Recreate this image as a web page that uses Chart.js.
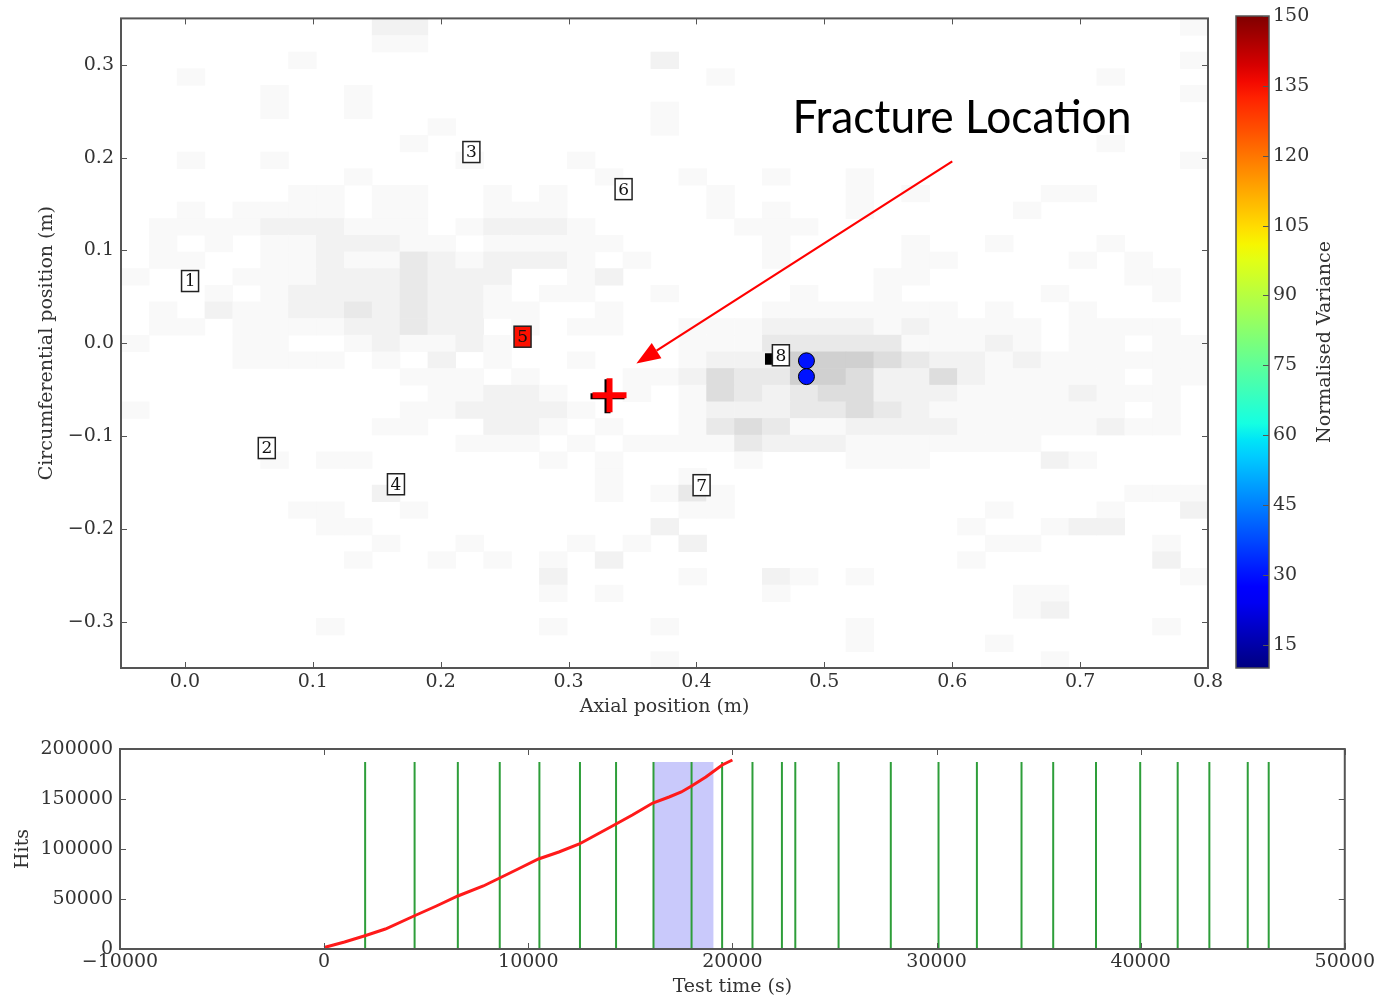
<!DOCTYPE html>
<html>
<head>
<meta charset="utf-8">
<title>Fracture location</title>
<script src="https://cdn.jsdelivr.net/npm/chart.js@4.4.1/dist/chart.umd.min.js"></script>
<style>
    html, body { margin: 0; padding: 0; background: #fff; }
    body { width: 1377px; height: 998px; position: relative; overflow: hidden; }
    canvas { position: absolute; }
    #mapChart { left: 0; top: 0; }
    #colorbar { left: 1200px; top: 0; }
    #hitsChart { left: 0; top: 730px; }
</style>
</head>
<body>
<canvas id="mapChart" width="1230" height="720"></canvas>
<canvas id="colorbar" width="177" height="720"></canvas>
<canvas id="hitsChart" width="1377" height="268"></canvas>

<script>
// ---- location map ----
const mapXTicks = [0.0, 0.1, 0.2, 0.3, 0.4, 0.5, 0.6, 0.7, 0.8];
const mapYTicks = [-0.3, -0.2, -0.1, 0.0, 0.1, 0.2, 0.3];

// background density, 39 x 39 cells, top row first (0 = empty .. 5 = darkest)
const heatXMin = -0.05, heatXMax = 0.8, heatYMin = -0.35, heatYMax = 0.35;
const heatRows = [
    "0000000002 2000000000 0000000000 000000001",
    "0000000001 1000000000 0000000000 000000000",
    "0000001000 0000000002 0000000000 000000001",
    "0010000000 0000000000 0100000000 000001000",
    "0000010010 0000000000 0000000000 000000001",
    "0000010010 0000000001 0000000000 000000000",
    "0000000000 0100000001 0000000000 000000000",
    "0000000000 1000000000 0000000000 000001000",
    "0010010000 0010001000 0000000000 000000001",
    "0000000010 0000000100 1001001000 000000000",
    "0000001101 1001010000 0100001010 000110000",
    "0010111101 1001110000 0101001000 001000000",
    "0111122211 1012221000 0011100000 000000000",
    "0101011222 1101111100 0001000010 010001000",
    "0110011211 3212221010 0001000011 000010100",
    "1000111222 3222001200 0000000110 000000110",
    "0001012222 3221011001 0000100100 000100010",
    "0102112232 3221100100 0001111111 010010000",
    "0110111122 3220101100 1112222121 111011110",
    "1000110012 1121000000 1113333311 121011011",
    "0000111101 0201001000 1222555432 212111111",
    "0000000000 1110100011 2433554224 211111011",
    "0000000000 0112210010 1432344222 111121110",
    "1000000000 1122221000 1222334321 111111010",
    "0000000001 1002210100 1343112222 111112110",
    "0000000000 0011101011 1132221111 111000000",
    "0000010110 0000010100 0010001110 000210000",
    "0000000000 0000000100 1000000000 000000000",
    "0000000002 0000000101 3100000000 000000111",
    "0000001100 1000000000 1100000000 010001002",
    "0000000110 0000000002 0000000000 100122000",
    "0000000001 0010001010 2000000000 011000010",
    "0000000010 0101010200 0000000000 100000020",
    "0000000000 0000020000 1002101000 000000001",
    "0000000000 0000010100 0001000000 001100000",
    "0000000000 0000000000 0000000000 001200000",
    "0000000100 0000010001 0000001000 000000010",
    "0000000000 0000000000 0000001000 010000000",
    "0000000000 0000000001 0000000000 000100000"
];

// sensor labels
const sensorIds = ["1", "2", "3", "4", "5", "6", "7", "8"];
const sensorX = [0.004, 0.064, 0.224, 0.165, 0.264, 0.343, 0.404, 0.466];
const sensorY = [0.067, -0.113, 0.206, -0.152, 0.007, 0.166, -0.153, -0.013];
const sensorValue = [null, null, null, null, 135, null, null, null];

// located sources
const sourceX = [0.486, 0.486];
const sourceY = [-0.019, -0.036];
const sourceValue = [30, 30];
const blockX = [0.458];
const blockY = [-0.017];

// fracture and annotation
const fractureX = [0.332];
const fractureY = [-0.056];
const noteText = "Fracture Location";
const noteX = 0.475, noteY = 0.226;
const arrowFrom = [0.600, 0.196];
const arrowTo = [0.353, -0.022];

// ---- colour bar ----
const colorMin = 10, colorMax = 150;
const colorTicks = [15, 30, 45, 60, 75, 90, 105, 120, 135, 150];
const colorTitle = "Normalised Variance";

// ---- hits against time ----
const hitTime = [0, 1000, 2000, 3000, 4400, 5500, 6550, 7800, 8600, 9500, 10500, 11500,
    12500, 13400, 14300, 15100, 16100, 16900, 17500, 18000, 18700, 19500, 20000];
const hitCount = [1500, 7000, 13300, 20000, 33000, 43000, 53000, 63000, 71000, 80000, 90000, 97000,
    105000, 115000, 125000, 134000, 146000, 152000, 157000, 163000, 172000, 184000, 189000];
const eventTimes = [2009, 4432, 6550, 8603, 10546, 12533, 14301, 16135, 18000, 19497, 20984,
    22426, 23082, 25202, 27760, 30098, 31978, 34164, 35716, 37814, 39978, 41814, 43366, 45246, 46273];
const eventTop = 187000;
const shadeStart = 16135, shadeEnd = 19082;
const hitsXTicks = [-10000, 0, 10000, 20000, 30000, 40000, 50000];
const hitsYTicks = [0, 50000, 100000, 150000, 200000];

const serif = "'DejaVu Serif', serif";
const tickColor = "#333";
const frameColor = "#555";
const greyShades = ["#ffffff", "#f9f9f9", "#f2f2f2", "#e9e9e9", "#dddddd", "#d0d0d0"];

// matplotlib jet
const jetRed = [[0, 0], [0.35, 0], [0.66, 1], [0.89, 1], [1, 0.5]];
const jetGreen = [[0, 0], [0.125, 0], [0.375, 1], [0.64, 1], [0.91, 0], [1, 0]];
const jetBlue = [[0, 0.5], [0.11, 1], [0.34, 1], [0.65, 0], [1, 0]];

function piece(points, t) {
    for (let i = 1; i < points.length; i++) {
        if (t <= points[i][0]) {
            const [t0, v0] = points[i - 1];
            const [t1, v1] = points[i];
            return v0 + (v1 - v0) * (t - t0) / (t1 - t0);
        }
    }
    return points[points.length - 1][1];
}

function jet(t) {
    t = Math.max(0, Math.min(1, t));
    const r = Math.round(piece(jetRed, t) * 255);
    const g = Math.round(piece(jetGreen, t) * 255);
    const b = Math.round(piece(jetBlue, t) * 255);
    return `rgb(${r}, ${g}, ${b})`;
}

function jetValue(v) {
    return jet((v - colorMin) / (colorMax - colorMin));
}

function signed(v, digits) {
    const s = Math.abs(v).toFixed(digits);
    return v < 0 ? "\u2212" + s : s;
}

function fixedTicks(list) {
    return function(scale) {
        scale.ticks = list.map(v => ({ value: v }));
    };
}

const heatmapPlugin = {
    id: "heatmap",
    beforeDatasetsDraw(chart) {
        const { ctx, chartArea, scales: { x, y } } = chart;
        const cols = heatRows[0].replace(/ /g, "").length;
        const dx = (heatXMax - heatXMin) / cols;
        const dy = (heatYMax - heatYMin) / heatRows.length;

        ctx.save();
        ctx.beginPath();
        ctx.rect(chartArea.left, chartArea.top, chartArea.width, chartArea.height);
        ctx.clip();

        heatRows.forEach((row, j) => {
            const cells = row.replace(/ /g, "");
            for (let i = 0; i < cells.length; i++) {
                const level = Number(cells[i]);
                if (!level) continue;
                const x0 = x.getPixelForValue(heatXMin + i * dx);
                const x1 = x.getPixelForValue(heatXMin + (i + 1) * dx);
                const y0 = y.getPixelForValue(heatYMax - j * dy);
                const y1 = y.getPixelForValue(heatYMax - (j + 1) * dy);
                ctx.fillStyle = greyShades[level];
                ctx.fillRect(x0, y0, x1 - x0 + 0.6, y1 - y0 + 0.6);
            }
        });
        ctx.restore();
    }
};

const framePlugin = {
    id: "frame",
    afterDatasetsDraw(chart) {
        const { ctx, chartArea: a, scales: { x, y } } = chart;
        ctx.save();
        ctx.strokeStyle = frameColor;
        ctx.lineWidth = 1;
        ctx.beginPath();
        x.ticks.forEach(t => {
            const px = Math.round(x.getPixelForValue(t.value)) + 0.5;
            ctx.moveTo(px, a.bottom);
            ctx.lineTo(px, a.bottom - 6);
            ctx.moveTo(px, a.top);
            ctx.lineTo(px, a.top + 6);
        });
        y.ticks.forEach(t => {
            const py = Math.round(y.getPixelForValue(t.value)) + 0.5;
            ctx.moveTo(a.left, py);
            ctx.lineTo(a.left + 6, py);
            ctx.moveTo(a.right, py);
            ctx.lineTo(a.right - 6, py);
        });
        ctx.stroke();
        ctx.lineWidth = 2;
        ctx.strokeRect(a.left, a.top, a.width, a.height);
        ctx.restore();
    }
};

function drawCross(ctx, cx, cy, arm) {
    ctx.beginPath();
    ctx.moveTo(cx - arm, cy);
    ctx.lineTo(cx + arm, cy);
    ctx.moveTo(cx, cy - arm);
    ctx.lineTo(cx, cy + arm);
    ctx.stroke();
}

const annotationPlugin = {
    id: "annotations",
    afterDatasetsDraw(chart) {
        const { ctx, scales: { x, y } } = chart;
        ctx.save();

        // sensor boxes
        ctx.font = `17px ${serif}`;
        ctx.textAlign = "center";
        ctx.textBaseline = "middle";
        sensorIds.forEach((id, i) => {
            const px = x.getPixelForValue(sensorX[i]);
            const py = y.getPixelForValue(sensorY[i]);
            const w = 17, h = 21;
            ctx.fillStyle = sensorValue[i] === null ? "#ffffff" : jetValue(sensorValue[i]);
            ctx.fillRect(px - w / 2, py - h / 2, w, h);
            ctx.strokeStyle = "#222";
            ctx.lineWidth = 1.5;
            ctx.strokeRect(px - w / 2, py - h / 2, w, h);
            ctx.fillStyle = "#111";
            ctx.fillText(id, px, py + 1);
        });

        // fracture marker, with the dark edge seen in the original
        const fx = x.getPixelForValue(fractureX[0]);
        const fy = y.getPixelForValue(fractureY[0]);
        ctx.lineWidth = 6;
        ctx.strokeStyle = "#000";
        drawCross(ctx, fx - 2, fy + 1, 17);
        ctx.strokeStyle = "#ff0000";
        drawCross(ctx, fx, fy, 17);

        // arrow
        const ax0 = x.getPixelForValue(arrowFrom[0]);
        const ay0 = y.getPixelForValue(arrowFrom[1]);
        const ax1 = x.getPixelForValue(arrowTo[0]);
        const ay1 = y.getPixelForValue(arrowTo[1]);
        const ang = Math.atan2(ay1 - ay0, ax1 - ax0);
        const headLen = 24, headHalf = 9;
        const bx = ax1 - headLen * Math.cos(ang);
        const by = ay1 - headLen * Math.sin(ang);
        ctx.strokeStyle = "#ff0000";
        ctx.fillStyle = "#ff0000";
        ctx.lineWidth = 2.2;
        ctx.beginPath();
        ctx.moveTo(ax0, ay0);
        ctx.lineTo(bx, by);
        ctx.stroke();
        ctx.beginPath();
        ctx.moveTo(ax1, ay1);
        ctx.lineTo(bx + headHalf * Math.sin(ang), by - headHalf * Math.cos(ang));
        ctx.lineTo(bx - headHalf * Math.sin(ang), by + headHalf * Math.cos(ang));
        ctx.closePath();
        ctx.fill();

        // note
        ctx.font = "46px Lato, 'Open Sans', sans-serif";
        ctx.textAlign = "left";
        ctx.textBaseline = "alphabetic";
        ctx.fillStyle = "#000";
        ctx.fillText(noteText, x.getPixelForValue(noteX), y.getPixelForValue(noteY), 339);

        ctx.restore();
    }
};

const colorbarPlugin = {
    id: "colorbarFill",
    beforeDraw(chart) {
        const { ctx, chartArea: a, scales: { y } } = chart;
        const grad = ctx.createLinearGradient(0, y.getPixelForValue(colorMin), 0, y.getPixelForValue(colorMax));
        for (let k = 0; k <= 40; k++) {
            grad.addColorStop(k / 40, jet(k / 40));
        }
        ctx.save();
        ctx.fillStyle = grad;
        ctx.fillRect(a.left, a.top, a.width, a.height);

        ctx.strokeStyle = frameColor;
        ctx.lineWidth = 1;
        ctx.beginPath();
        y.ticks.forEach(t => {
            const py = Math.round(y.getPixelForValue(t.value)) + 0.5;
            ctx.moveTo(a.right, py);
            ctx.lineTo(a.right - 6, py);
        });
        ctx.stroke();
        ctx.lineWidth = 1.5;
        ctx.strokeRect(a.left, a.top, a.width, a.height);

        ctx.font = `19px ${serif}`;
        ctx.fillStyle = tickColor;
        ctx.textAlign = "center";
        ctx.textBaseline = "middle";
        ctx.translate(125, (a.top + a.bottom) / 2);
        ctx.rotate(-Math.PI / 2);
        ctx.fillText(colorTitle, 0, 0);
        ctx.restore();
    }
};

function axisFont(size) {
    return { family: serif, size: size };
}

// ---- top: location map ----
new Chart(document.getElementById("mapChart"), {
    type: "scatter",
    data: {
        datasets: [
            {
                label: "sources",
                data: sourceX.map((v, i) => ({ x: v, y: sourceY[i] })),
                pointStyle: "circle",
                pointRadius: 8,
                backgroundColor: sourceValue.map(jetValue),
                borderColor: "#000",
                borderWidth: 1
            },
            {
                label: "block",
                data: blockX.map((v, i) => ({ x: v, y: blockY[i] })),
                pointStyle: "rect",
                pointRadius: 8,
                backgroundColor: "#000",
                borderColor: "#000",
                borderWidth: 0
            }
        ]
    },
    options: {
        responsive: false,
        animation: false,
        events: [],
        layout: { padding: { top: 5, right: 22, left: 0, bottom: 0 } },
        plugins: {
            legend: { display: false },
            tooltip: { enabled: false }
        },
        scales: {
            x: {
                type: "linear",
                min: -0.05,
                max: 0.8,
                afterBuildTicks: fixedTicks(mapXTicks),
                afterFit: function(scale) { scale.height = 52; },
                grid: { display: false, drawTicks: false },
                border: { display: false },
                ticks: {
                    padding: 3,
                    color: tickColor,
                    font: axisFont(19),
                    callback: value => signed(value, 1)
                },
                title: {
                    display: true,
                    text: "Axial position (m)",
                    color: tickColor,
                    font: axisFont(19),
                    padding: { top: 0, bottom: 2 }
                }
            },
            y: {
                type: "linear",
                min: -0.35,
                max: 0.35,
                afterBuildTicks: fixedTicks(mapYTicks),
                afterFit: function(scale) { scale.width = 121; },
                grid: { display: false, drawTicks: false },
                border: { display: false },
                ticks: {
                    padding: 7,
                    color: tickColor,
                    font: axisFont(19),
                    callback: value => signed(value, 1)
                },
                title: {
                    display: true,
                    text: "Circumferential position (m)",
                    color: tickColor,
                    font: axisFont(19),
                    padding: { top: 36, bottom: 0 }
                }
            }
        }
    },
    plugins: [heatmapPlugin, framePlugin, annotationPlugin]
});

// ---- colour bar ----
new Chart(document.getElementById("colorbar"), {
    type: "bar",
    data: { labels: [""], datasets: [] },
    options: {
        responsive: false,
        animation: false,
        events: [],
        layout: { padding: { top: 16, right: 0, left: 36, bottom: 52 } },
        plugins: {
            legend: { display: false },
            tooltip: { enabled: false }
        },
        scales: {
            x: { display: false },
            y: {
                type: "linear",
                position: "right",
                min: colorMin,
                max: colorMax,
                afterBuildTicks: fixedTicks(colorTicks),
                afterFit: function(scale) { scale.width = 108; },
                grid: { display: false, drawTicks: false },
                border: { display: false },
                ticks: {
                    padding: 4,
                    color: tickColor,
                    font: axisFont(19)
                }
            }
        }
    },
    plugins: [colorbarPlugin]
});

// ---- bottom: hits ----
const eventLineData = [];
eventTimes.forEach(t => {
    eventLineData.push({ x: t, y: 0 }, { x: t, y: eventTop }, { x: t, y: null });
});

new Chart(document.getElementById("hitsChart"), {
    type: "scatter",
    data: {
        datasets: [
            {
                label: "Hits",
                data: hitTime.map((t, i) => ({ x: t, y: hitCount[i] })),
                showLine: true,
                borderColor: "#ff1a1a",
                borderWidth: 3,
                pointRadius: 0,
                fill: false
            },
            {
                label: "events",
                data: eventLineData,
                showLine: true,
                spanGaps: false,
                borderColor: "#2e9e3a",
                borderWidth: 2,
                pointRadius: 0,
                fill: false
            },
            {
                label: "window",
                data: [{ x: shadeStart, y: eventTop }, { x: shadeEnd, y: eventTop }],
                showLine: true,
                borderWidth: 0,
                borderColor: "rgba(0, 0, 0, 0)",
                pointRadius: 0,
                fill: "origin",
                backgroundColor: "rgba(30, 30, 240, 0.24)"
            }
        ]
    },
    options: {
        responsive: false,
        animation: false,
        events: [],
        layout: { padding: { top: 19, right: 32, left: 0, bottom: 0 } },
        plugins: {
            legend: { display: false },
            tooltip: { enabled: false },
            filler: { propagate: false }
        },
        scales: {
            x: {
                type: "linear",
                min: -10000,
                max: 50000,
                afterBuildTicks: fixedTicks(hitsXTicks),
                afterFit: function(scale) { scale.height = 49; },
                grid: { display: false, drawTicks: false },
                border: { display: false },
                ticks: {
                    padding: 2,
                    color: tickColor,
                    font: axisFont(19),
                    callback: value => signed(value, 0)
                },
                title: {
                    display: true,
                    text: "Test time (s)",
                    color: tickColor,
                    font: axisFont(19),
                    padding: { top: 0, bottom: 0 }
                }
            },
            y: {
                type: "linear",
                min: 0,
                max: 200000,
                afterBuildTicks: fixedTicks(hitsYTicks),
                afterFit: function(scale) { scale.width = 120; },
                grid: { display: false, drawTicks: false },
                border: { display: false },
                ticks: {
                    padding: 7,
                    color: tickColor,
                    font: axisFont(19),
                    callback: value => signed(value, 0)
                },
                title: {
                    display: true,
                    text: "Hits",
                    color: tickColor,
                    font: axisFont(19),
                    padding: { top: 12, bottom: 0 }
                }
            }
        }
    },
    plugins: [framePlugin]
});
</script>
</body>
</html>
